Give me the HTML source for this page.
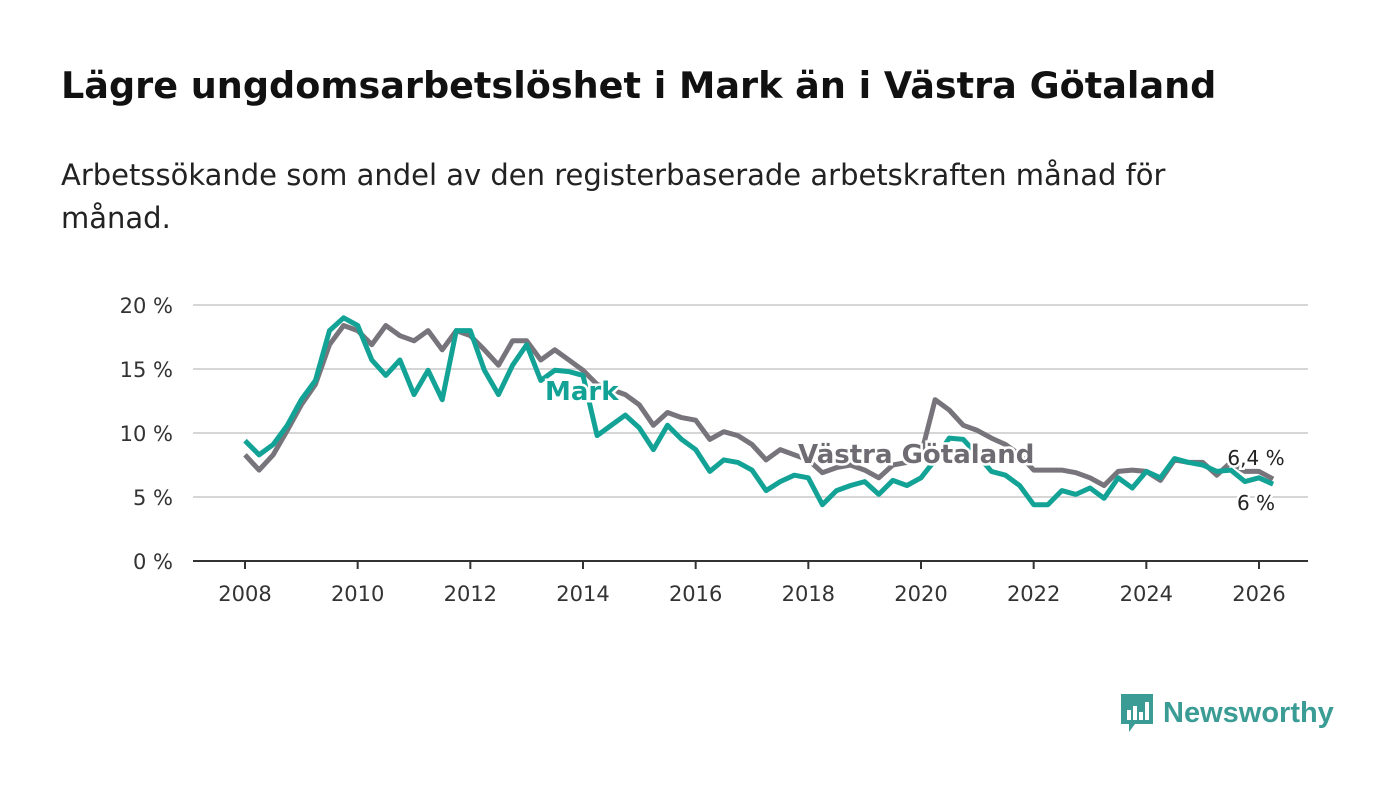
<!DOCTYPE html>
<html><head><meta charset="utf-8"><style>
body{margin:0;width:1400px;height:794px;background:#fff;font-family:"DejaVu Sans",sans-serif;overflow:hidden;position:relative}
h1{position:absolute;left:61px;top:64px;margin:0;font-size:36.6px;font-weight:bold;color:#111;white-space:nowrap}
.sub{position:absolute;left:61px;top:154px;width:1200px;font-size:29px;line-height:43px;color:#222}
svg{position:absolute;left:0;top:0}
</style></head><body>
<h1>Lägre ungdomsarbetslöshet i Mark än i Västra Götaland</h1>
<div class="sub">Arbetssökande som andel av den registerbaserade arbetskraften månad för månad.</div>
<svg id="c" width="1400" height="794"></svg>
<script>
const years=[];for(let i=0;i<=73;i++)years.push(2008+i*0.25);
const vg=[8.3,7.1,8.3,10.2,12.2,13.8,16.9,18.4,18.0,16.9,18.4,17.6,17.2,18.0,16.5,18.0,17.6,16.5,15.3,17.2,17.2,15.7,16.5,15.7,14.9,13.8,13.4,13.0,12.2,10.6,11.6,11.2,11.0,9.5,10.1,9.8,9.1,7.9,8.7,8.3,7.9,6.9,7.3,7.5,7.1,6.5,7.5,7.7,8.3,12.6,11.8,10.6,10.2,9.6,9.1,8.3,7.1,7.1,7.1,6.9,6.5,5.9,7.0,7.1,7.0,6.3,7.9,7.7,7.7,6.7,7.7,7.0,7.0,6.4];
const mark=[9.4,8.3,9.1,10.6,12.6,14.1,18.0,19.0,18.4,15.7,14.5,15.7,13.0,14.9,12.6,18.0,18.0,14.9,13.0,15.3,16.9,14.1,14.9,14.8,14.5,9.8,10.6,11.4,10.4,8.7,10.6,9.5,8.7,7.0,7.9,7.7,7.1,5.5,6.2,6.7,6.5,4.4,5.5,5.9,6.2,5.2,6.3,5.9,6.5,7.9,9.6,9.5,8.3,7.0,6.7,5.9,4.4,4.4,5.5,5.2,5.7,4.9,6.5,5.7,7.0,6.5,8.0,7.7,7.5,7.0,7.1,6.2,6.5,6.0];
const yTicks=[0,5,10,15,20];
const xTicks=[2008,2010,2012,2014,2016,2018,2020,2022,2024,2026];
const X=y=>245+(y-2008)*(1259-245)/18;
const Y=v=>561-v*12.8;
const svg=document.getElementById('c');const NS='http://www.w3.org/2000/svg';
const F='DejaVu Sans';
function mk(t,a){const e=document.createElementNS(NS,t);for(const k in a)e.setAttribute(k,a[k]);svg.appendChild(e);return e;}
yTicks.forEach(t=>{
 if(t>0){const g=mk('line',{x1:193,x2:1308,y1:Y(t),y2:Y(t),stroke:'#d6d6d6','stroke-width':2});
 
 }
 const l=mk('text',{x:173,y:Y(t)+8,'text-anchor':'end','font-size':21,fill:'#333','font-family':F});
 
 
 l.textContent=t+' %';});
const ax=mk('line',{x1:193,x2:1308,y1:561,y2:561,stroke:'#333','stroke-width':2});


xTicks.forEach(t=>{const k=mk('line',{x1:X(t),x2:X(t),y1:561,y2:569,stroke:'#333','stroke-width':2});
 
 
 const l=mk('text',{x:X(t),y:601,'text-anchor':'middle','font-size':21,fill:'#333','font-family':F});
 
 
 l.textContent=t;});
function line(d,c,n){const p=mk('path',{d:d.map((v,i)=>(i?'L':'M')+X(years[i]).toFixed(1)+' '+Y(v).toFixed(1)).join(''),fill:'none',stroke:c,'stroke-width':5,'stroke-linejoin':'round'});
 
 }
line(vg,'#77757b','series-vastra-gotaland');
line(mark,'#13a396','series-mark');
function lab(x,y,t,c,n,fs,w,anchor){const e=mk('text',{x:x,y:y,'font-size':fs,'font-weight':w,fill:c,stroke:'#fff','stroke-width':5,'paint-order':'stroke','font-family':F,'text-anchor':anchor||'start'});
 
 
 e.textContent=t;}
lab(545,400,'Mark','#13a396','label-mark',26,'bold');
lab(798,463,'Västra Götaland','#6e6c72','label-vastra-gotaland',26,'bold');
lab(1256,465,'6,4 %','#222','end-value-vg',20,'normal','middle');
lab(1256,510,'6 %','#222','end-value-mark',20,'normal','middle');
</script>
<div style="position:absolute;left:1119px;top:692px;display:flex;align-items:center;font-family:'Liberation Sans',sans-serif">
<svg width="36" height="42" style="position:static"><path d="M2 2h32v30H16l-6 8v-8H2z" fill="#3a9c94"/><rect x="8" y="18" width="4" height="10" fill="#fff"/><rect x="14" y="14" width="4" height="14" fill="#fff"/><rect x="20" y="20" width="4" height="8" fill="#fff"/><rect x="26" y="10" width="4" height="18" fill="#fff"/></svg>
<span style="font-size:29px;font-weight:bold;color:#3a9c94;margin-left:8px">Newsworthy</span></div>
</body></html>
